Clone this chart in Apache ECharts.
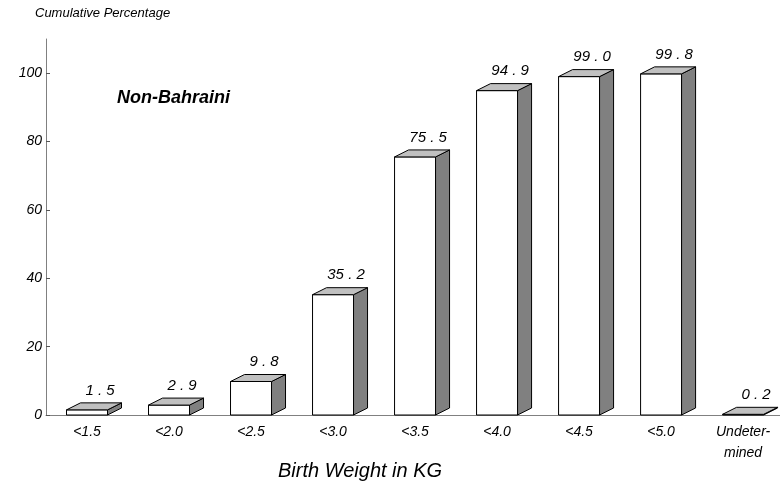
<!DOCTYPE html>
<html><head><meta charset="utf-8">
<script src="https://cdn.jsdelivr.net/npm/echarts@6/dist/echarts.min.js"></script>
<style>html,body{margin:0;padding:0;background:#fff}#c{width:780px;height:489px}</style>
</head><body><div id="c"></div>
<script>
const categories = ['<1.5','<2.0','<2.5','<3.0','<3.5','<4.0','<4.5','<5.0','Undeter-\nmined'];
const values = [1.5, 2.9, 9.8, 35.2, 75.5, 94.9, 99.0, 99.8, 0.2];
const yTicks = [0, 20, 40, 60, 80, 100];
const xPositions = categories.map((c, i) => i);

const FONT = '"Liberation Sans", Arial, sans-serif';
const chart = echarts.init(document.getElementById('c'));
const DX = 14, DY = 7;
function fmt(v){ return v.toFixed(1).replace('.', ' . '); }

chart.setOption({
  animation: false,
  backgroundColor: '#fff',
  grid: { left: 46, right: 0, top: 39, bottom: 74, containLabel: false },
  xAxis: {
    type: 'value', min: -0.5, max: 8.45,
    splitLine: { show: false },
    axisLine: { show: true, onZero: false, lineStyle: { color: '#808080', width: 1 } },
    axisTick: { show: false },
    axisLabel: { color: '#000', fontFamily: FONT, fontStyle: 'italic', fontSize: 14, margin: 7, lineHeight: 21,
      customValues: xPositions,
      formatter: function (v) { return categories[Math.round(v)] || ''; } }
  },
  yAxis: {
    type: 'value', min: 0, max: 110, interval: 20,
    splitLine: { show: false },
    axisLine: { show: true, onZero: false, lineStyle: { color: '#808080', width: 1 } },
    axisTick: { show: true, inside: true, length: 4, lineStyle: { color: '#555' }, customValues: yTicks },
    axisLabel: { color: '#000', fontFamily: FONT, fontStyle: 'italic', fontSize: 14, margin: 4, customValues: yTicks }
  },
  graphic: [
    { type: 'text', left: 35, top: 7, style: { text: 'Cumulative Percentage', font: 'italic 13px ' + FONT, fill: '#000' } },
    { type: 'text', left: 117, top: 89, style: { text: 'Non-Bahraini', font: 'italic bold 18px ' + FONT, fill: '#000' } },
    { type: 'text', left: 278, top: 461, style: { text: 'Birth Weight in KG', font: 'italic 20px ' + FONT, fill: '#000' } }
  ],
  series: [{
    type: 'custom',
    data: values.map((v, i) => [xPositions[i], v]),
    encode: { x: 0, y: 1 },
    renderItem: function (params, api) {
      const x = api.value(0), y = api.value(1);
      const base = api.coord([x, 0]);
      const top = api.coord([x, y]);
      const bw = api.size([1, 0])[0] * 0.5;
      const xl = base[0] - bw / 2, xr = base[0] + bw / 2, yb = base[1], yt = top[1];
      const ls = { stroke: '#000', lineWidth: 1 };
      return { type: 'group', children: [
        { type: 'rect', shape: { x: xl, y: yt, width: bw, height: yb - yt }, style: Object.assign({ fill: '#fff' }, ls) },
        { type: 'polygon', shape: { points: [[xr, yt], [xr + DX, yt - DY], [xr + DX, yb - DY], [xr, yb]] }, style: Object.assign({ fill: '#808080' }, ls) },
        { type: 'polygon', shape: { points: [[xl, yt], [xl + DX, yt - DY], [xr + DX, yt - DY], [xr, yt]] }, style: Object.assign({ fill: '#c0c0c0' }, ls) },
        { type: 'text', style: { text: fmt(y), x: base[0] + 13, y: yt - DY - 5, textAlign: 'center', textVerticalAlign: 'bottom', font: 'italic 15px ' + FONT, fill: '#000' } }
      ] };
    }
  }]
});
</script></body></html>
